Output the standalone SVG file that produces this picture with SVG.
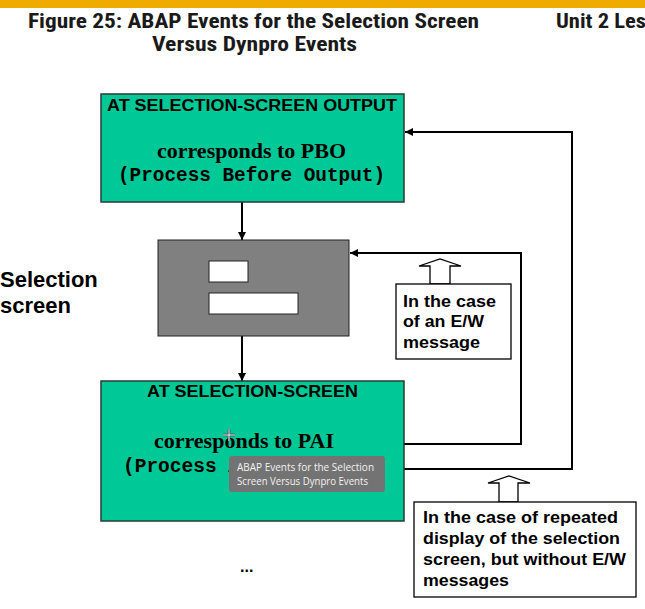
<svg xmlns="http://www.w3.org/2000/svg" width="645" height="609" viewBox="0 0 645 609">
<style>
.title{font-family:"Roboto Condensed","Liberation Sans Narrow",Roboto,"Liberation Sans",sans-serif;font-weight:bold;font-size:20px;fill:#1a1a1a}
.hdr{font-family:"Liberation Sans",Arial,sans-serif;font-weight:bold;font-size:16.5px;fill:#000}
.serif{font-family:"Liberation Serif","Times New Roman",serif;font-weight:bold;font-size:22px;fill:#000}
.mono{font-family:"Liberation Mono","Courier New",monospace;font-weight:bold;font-size:19.5px;fill:#000}
.note{font-family:"Liberation Sans",Arial,sans-serif;font-weight:bold;font-size:16.5px;fill:#000}
.green{fill:#00C896;stroke:#2b3a33;stroke-width:1.5}
.conn{fill:none;stroke:#000;stroke-width:2}
.hollow{fill:#fff;stroke:#000;stroke-width:1.3}
.tip{font-family:"Open Sans","Noto Sans",sans-serif;font-size:11.5px;fill:#f2f2f2}
</style>
<defs>
<marker id="ah" viewBox="0 0 10 10" refX="10" refY="5" markerWidth="4" markerHeight="4" orient="auto" markerUnits="strokeWidth">
<path d="M0,0 L10,5 L0,10 z" fill="#000"/>
</marker>
</defs>
<rect width="645" height="609" fill="#fff"/>
<rect x="0" y="0" width="645" height="8" fill="#F0AB00"/>
<g id="title">
<text class="title" x="28" y="28" textLength="451" lengthAdjust="spacingAndGlyphs">Figure 25: ABAP Events for the Selection Screen</text>
<text class="title" x="152" y="51" textLength="205" lengthAdjust="spacingAndGlyphs">Versus Dynpro Events</text>
<text class="title" x="556" y="28" textLength="90" lengthAdjust="spacingAndGlyphs">Unit 2 Les</text>
</g>
<g id="label-selection-screen">
<text x="0" y="287" font-family="'Liberation Sans',Arial,sans-serif" font-weight="bold" font-size="22">Selection</text>
<text x="0" y="313" font-family="'Liberation Sans',Arial,sans-serif" font-weight="bold" font-size="22">screen</text>
</g>
<g id="connectors">
<line class="conn" x1="242" y1="202" x2="242" y2="240" marker-end="url(#ah)"/>
<line class="conn" x1="242" y1="336" x2="242" y2="381" marker-end="url(#ah)"/>
<polyline class="conn" points="404,444 521,444 521,253 350,253" marker-end="url(#ah)"/>
<polyline class="conn" points="404,469 572,469 572,132 405,132" marker-end="url(#ah)"/>
</g>
<g id="node-pbo">
<rect class="green" x="101" y="94" width="303" height="108"/>
<text class="hdr" x="107" y="111" textLength="290" lengthAdjust="spacingAndGlyphs">AT SELECTION-SCREEN OUTPUT</text>
<text class="serif" x="251.5" y="158" text-anchor="middle">corresponds to PBO</text>
<text class="mono" x="118" y="181" textLength="267" lengthAdjust="spacingAndGlyphs">(Process Before Output)</text>
</g>
<g id="node-screen">
<rect x="158" y="240" width="191" height="96" fill="#808080" stroke="#222" stroke-width="1"/>
<rect x="209" y="261" width="39" height="21" fill="#fff" stroke="#222" stroke-width="1"/>
<rect x="209" y="293" width="89" height="21" fill="#fff" stroke="#222" stroke-width="1"/>
</g>
<g id="node-pai">
<rect class="green" x="101" y="381" width="303" height="140"/>
<text class="hdr" x="147" y="397" textLength="211" lengthAdjust="spacingAndGlyphs">AT SELECTION-SCREEN</text>
<text class="serif" x="244" y="448" text-anchor="middle">corresponds to PAI</text>
<text class="mono" x="123" y="472">(Process After Input)</text>
</g>
<g id="node-note-ew">
<polygon class="hollow" points="430,284 430,266 419,266 440,259 461,266 450,266 450,284"/>
<rect x="396" y="284" width="115" height="75" fill="#fff" stroke="#000" stroke-width="1.3"/>
<text class="note" x="403" y="307" textLength="93" lengthAdjust="spacingAndGlyphs">In the case</text>
<text class="note" x="403" y="327" textLength="81" lengthAdjust="spacingAndGlyphs">of an E/W</text>
<text class="note" x="403" y="348" textLength="77" lengthAdjust="spacingAndGlyphs">message</text>
</g>
<g id="node-note-repeat">
<polygon class="hollow" points="499,502 499,483 488,483 509,476 530,483 518,483 518,502"/>
<rect x="414" y="502" width="222" height="95" fill="#fff" stroke="#000" stroke-width="1.3"/>
<text class="note" x="423" y="523" textLength="195" lengthAdjust="spacingAndGlyphs">In the case of repeated</text>
<text class="note" x="423" y="544" textLength="197" lengthAdjust="spacingAndGlyphs">display of the selection</text>
<text class="note" x="423" y="565" textLength="203" lengthAdjust="spacingAndGlyphs">screen, but without E/W</text>
<text class="note" x="423" y="586" textLength="86" lengthAdjust="spacingAndGlyphs">messages</text>
</g>
<g id="ellipsis">
<text x="240" y="572" font-family="'Liberation Sans',Arial,sans-serif" font-weight="bold" font-size="16">...</text>
</g>
<g id="tooltip">
<rect x="229" y="456" width="156" height="36" rx="3" fill="#737373"/>
<text class="tip" x="237" y="471" textLength="137" lengthAdjust="spacingAndGlyphs">ABAP Events for the Selection</text>
<text class="tip" x="237" y="485" textLength="131" lengthAdjust="spacingAndGlyphs">Screen Versus Dynpro Events</text>
</g>
<g id="cursor" stroke-width="1">
<path d="M229,429 V441 M223,435 H235" stroke="#334" stroke-width="2.5"/>
<path d="M229,429 V441 M223,435 H235" stroke="#fff" stroke-width="1"/>
</g>
</svg>
